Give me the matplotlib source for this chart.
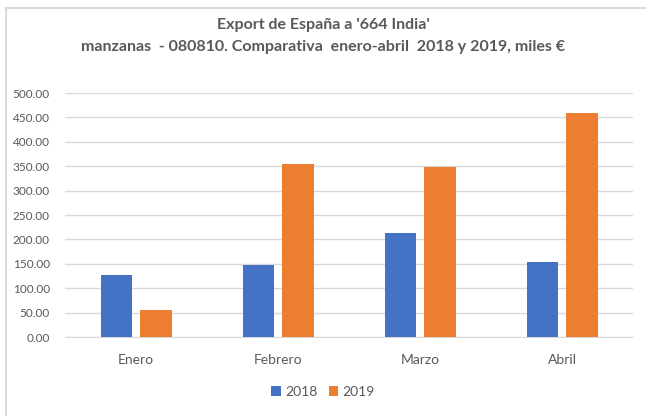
import numpy as np
import matplotlib.pyplot as plt
from matplotlib.lines import Line2D

months = ['Enero', 'Febrero', 'Marzo', 'Abril']
vals_2018 = [128, 148, 213, 154]
vals_2019 = [56, 355, 348, 459]
yticks = np.arange(0, 501, 50)

plt.rcParams['font.family'] = ['Lato', 'DejaVu Sans']
text_grey = '#595959'

fig = plt.figure(figsize=(6.46, 4.16), dpi=100)
ax = fig.add_axes([65 / 646, 1 - 337 / 416, (633 - 65) / 646, (337 - 93) / 416])

x = np.arange(len(months))
w = 0.22
ax.bar(x - 0.14, vals_2018, w, color='#4472C4', label='2018', zorder=3)
ax.bar(x + 0.14, vals_2019, w, color='#ED7D31', label='2019', zorder=3)

ax.set_xlim(-0.5, len(months) - 0.5)
ax.set_ylim(0, 500)
ax.set_yticks(yticks)
ax.set_yticklabels([f'{v:.2f}' for v in yticks], color=text_grey, fontsize=8.5)
ax.set_xticks(x)
ax.set_xticklabels(months, color=text_grey, fontsize=10)
ax.tick_params(axis='both', length=0)
ax.tick_params(axis='x', pad=12)
ax.tick_params(axis='y', pad=11)
ax.grid(axis='y', color='#d9d9d9', linewidth=1, zorder=0)
for side in ['top', 'right', 'left']:
    ax.spines[side].set_visible(False)
ax.spines['bottom'].set_color('#d9d9d9')

fig.text(0.5, 1 - 25 / 416, "Export de España a '664 India'", ha='center', va='center',
         fontsize=11.5, fontweight='bold', color=text_grey)
fig.text(0.5, 1 - 47 / 416, 'manzanas  - 080810. Comparativa  enero-abril  2018 y 2019, miles €',
         ha='center', va='center', fontsize=11.5, fontweight='bold', color=text_grey)

fig.legend(loc='center', bbox_to_anchor=(0.5, 1 - 392 / 416), ncol=2, frameon=False,
           fontsize=10, labelcolor=text_grey, handlelength=0.7, handleheight=0.7,
           handletextpad=0.3, columnspacing=0.8)

# chart frame (left and top edges visible)
fig.add_artist(Line2D([6 / 646, 6 / 646], [0, 1 - 8 / 416], color='#d9d9d9', lw=1.5))
fig.add_artist(Line2D([6 / 646, 1], [1 - 8 / 416, 1 - 8 / 416], color='#d9d9d9', lw=1.5))

fig.savefig('out.png', dpi=100)
